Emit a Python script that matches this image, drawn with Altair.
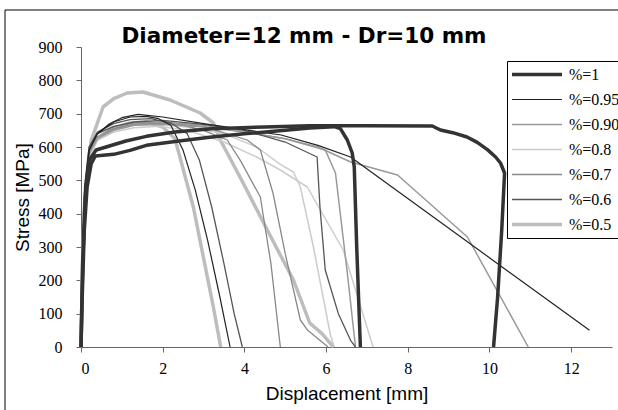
import altair as alt
import pandas as pd

# ---- data ----
chart_title = "Diameter=12 mm - Dr=10 mm"
series_order = ["%=1", "%=0.95", "%=0.90", "%=0.8", "%=0.7", "%=0.6", "%=0.5"]
series_colors = ["#333333", "#222222", "#999999", "#cccccc", "#888888", "#555555", "#bdbdbd"]
series_widths = [3.5, 1.2, 1.5, 1.5, 1.3, 1.3, 3.5]

# %=0.5
c7a_x = [0, 0.03, 0.1, 0.25, 0.54, 0.8, 1.13, 1.52, 2.18, 2.92, 3.24, 3.41, 3.97, 4.56, 5.2, 5.6, 5.9, 6.18]
c7a_y = [0, 200, 450, 620, 720, 745, 762, 765, 741, 702, 672, 621, 492, 351, 201, 72, 40, 0]
c7b_x = [0, 0.04, 0.1, 0.2, 0.4, 0.8, 1.2, 1.6, 2.0, 2.3, 2.75, 3.24, 3.42]
c7b_y = [0, 270, 470, 580, 625, 655, 672, 676, 660, 625, 420, 120, 0]
# %=0.8
c4a_x = [0, 0.04, 0.1, 0.2, 0.4, 0.8, 1.3, 1.9, 2.6, 3.5, 4.3, 4.88, 5.54, 6.42, 7.15]
c4a_y = [0, 250, 450, 570, 620, 645, 658, 662, 650, 615, 570, 531, 480, 291, 0]
c4b_x = [0, 0.04, 0.1, 0.2, 0.4, 0.8, 1.3, 1.9, 2.6, 3.5, 4.3, 4.88, 5.2, 5.37, 5.69, 6.1, 6.2]
c4b_y = [0, 250, 450, 570, 620, 650, 665, 668, 660, 640, 600, 548, 525, 480, 300, 40, 0]
# %=0.7
c5a_x = [0, 0.04, 0.1, 0.2, 0.4, 0.8, 1.3, 1.8, 2.5, 3.0, 3.58, 3.9, 4.39, 4.65, 4.88]
c5a_y = [0, 270, 470, 585, 630, 655, 668, 672, 665, 650, 621, 560, 450, 250, 0]
c5b_x = [0, 0.04, 0.1, 0.2, 0.4, 0.8, 1.3, 2.0, 3.0, 4.07, 4.39, 4.7, 5.0, 5.37, 5.55, 5.75, 6.05]
c5b_y = [0, 270, 470, 585, 630, 655, 668, 672, 662, 621, 591, 462, 280, 81, 50, 30, 0]
# %=0.90
c3a_x = [0, 0.04, 0.1, 0.2, 0.4, 0.8, 1.3, 2.0, 3.0, 4.0, 5.0, 5.8, 6.6, 7.75, 9.46, 10.95]
c3a_y = [0, 260, 460, 580, 630, 660, 672, 675, 665, 645, 625, 600, 555, 516, 330, 0]
c3b_x = [0, 0.04, 0.1, 0.2, 0.4, 0.8, 1.3, 2.0, 3.0, 4.0, 5.0, 5.98, 6.23, 6.52, 6.72]
c3b_y = [0, 260, 460, 580, 625, 650, 665, 668, 660, 645, 625, 591, 522, 222, 0]
# %=0.6
c6a_x = [0, 0.04, 0.1, 0.2, 0.4, 0.8, 1.2, 1.7, 2.2, 2.6, 2.9, 3.2, 3.5, 3.75, 3.95]
c6a_y = [0, 290, 490, 600, 645, 670, 682, 685, 672, 640, 560, 420, 250, 100, 0]
c6b_x = [0, 0.04, 0.1, 0.2, 0.4, 0.8, 1.3, 2.0, 3.0, 4.0, 5.0, 5.78, 5.85, 5.98, 6.3, 6.6, 6.72]
c6b_y = [0, 290, 490, 600, 640, 662, 675, 680, 668, 650, 615, 570, 420, 231, 100, 20, 0]
# %=0.95
c2a_x = [0, 0.04, 0.1, 0.2, 0.4, 0.7, 1.0, 1.4, 2.0, 3.0, 4.0, 4.9, 5.8, 6.6, 12.45]
c2a_y = [0, 280, 480, 590, 640, 670, 688, 698, 690, 670, 652, 636, 605, 570, 50]
c2b_x = [0, 0.04, 0.1, 0.2, 0.4, 0.8, 1.2, 1.6, 1.9, 2.2, 2.5, 2.8, 3.1, 3.4, 3.65]
c2b_y = [0, 280, 480, 590, 640, 675, 690, 692, 685, 665, 590, 470, 320, 150, 0]
# %=1
c1a_x = [0, 0.03, 0.08, 0.15, 0.25, 0.35, 0.8, 1.2, 1.6, 2.4, 3.2, 4.0, 5.0, 5.6, 6.2, 6.35, 6.52, 6.64, 6.69, 6.75, 6.84]
c1a_y = [0, 150, 350, 480, 550, 573, 578, 590, 605, 618, 630, 640, 650, 657, 661, 655, 621, 582, 540, 300, 0]
c1b_x = [0, 0.04, 0.1, 0.2, 0.37, 1.1, 1.6, 2.3, 3.2, 4.5, 5.6, 7.0, 8.6, 8.8, 9.1, 9.45, 9.7, 9.95, 10.15, 10.27, 10.37, 10.3, 10.2, 10.1]
c1b_y = [0, 250, 450, 560, 591, 618, 632, 645, 655, 660, 664, 664, 663, 651, 643, 630, 614, 592, 570, 552, 522, 350, 150, 0]

curves = [
    ("%=0.5", "c7a", c7a_x, c7a_y), ("%=0.5", "c7b", c7b_x, c7b_y),
    ("%=0.8", "c4a", c4a_x, c4a_y), ("%=0.8", "c4b", c4b_x, c4b_y),
    ("%=0.7", "c5a", c5a_x, c5a_y), ("%=0.7", "c5b", c5b_x, c5b_y),
    ("%=0.90", "c3a", c3a_x, c3a_y), ("%=0.90", "c3b", c3b_x, c3b_y),
    ("%=0.6", "c6a", c6a_x, c6a_y), ("%=0.6", "c6b", c6b_x, c6b_y),
    ("%=0.95", "c2a", c2a_x, c2a_y), ("%=0.95", "c2b", c2b_x, c2b_y),
    ("%=1", "c1a", c1a_x, c1a_y), ("%=1", "c1b", c1b_x, c1b_y),
]

rows = []
for s, cid, xs, ys in curves:
    for i, (xv, yv) in enumerate(zip(xs, ys)):
        rows.append({"series": s, "curve": cid, "idx": i, "disp": xv, "stress": yv})
df = pd.DataFrame(rows)

x_ticks = [0, 2, 4, 6, 8, 10, 12]
y_ticks = [0, 100, 200, 300, 400, 500, 600, 700, 800, 900]

serif = "'Liberation Serif', 'DejaVu Serif', serif"

lines = alt.Chart(df).mark_line(strokeJoin="round").encode(
    x=alt.X("disp:Q", scale=alt.Scale(domain=[0, 13], nice=False),
            axis=alt.Axis(values=x_ticks, title="Displacement [mm]")),
    y=alt.Y("stress:Q", scale=alt.Scale(domain=[0, 900], nice=False),
            axis=alt.Axis(values=y_ticks, title="Stress [MPa]")),
    color=alt.Color("series:N", scale=alt.Scale(domain=series_order, range=series_colors),
                    legend=alt.Legend(title=None)),
    strokeWidth=alt.StrokeWidth("series:N",
                                scale=alt.Scale(type="ordinal", domain=series_order, range=series_widths),
                                legend=alt.Legend(title=None)),
    detail="curve:N",
    order="idx:Q",
)

one = pd.DataFrame({"t": [chart_title]})

frame = alt.Chart(one).mark_rect(
    fillOpacity=0, stroke="#000000", strokeWidth=1
).encode(x=alt.value(-76), x2=alt.value(560), y=alt.value(-37), y2=alt.value(400))

title = alt.Chart(one).mark_text(
    font="DejaVu Sans", fontSize=21.5, fontWeight="bold", align="center", baseline="alphabetic",
    color="#000000"
).encode(text="t:N", x=alt.value(223), y=alt.value(-4))

chart = alt.layer(frame, title, lines).properties(
    width=531, height=300,
    autosize=alt.AutoSizeParams(type="none"),
    padding={"left": 81, "top": 47, "right": 6, "bottom": 63},
).configure_view(stroke=None).configure_axis(
    grid=False, domainColor="#666666", tickColor="#666666", tickSize=5,
    labelFont=serif, labelFontSize=16, labelColor="#000000",
    titleFont="Liberation Sans", titleFontSize=19, titleFontWeight="normal", titleColor="#000000",
).configure_axisX(labelPadding=8, titlePadding=8).configure_axisY(labelPadding=14, titlePadding=6).configure_legend(
    orient="none", legendX=426, legendY=14, symbolType="stroke", symbolSize=2500,
    strokeColor="#000000", fillColor="#ffffff", padding=3, rowPadding=4, clipHeight=21,
    labelFont=serif, labelFontSize=16, labelColor="#000000", labelOffset=5,
    cornerRadius=0,
)

chart.save("out.html", embed_options={"renderer": "svg", "actions": False})
